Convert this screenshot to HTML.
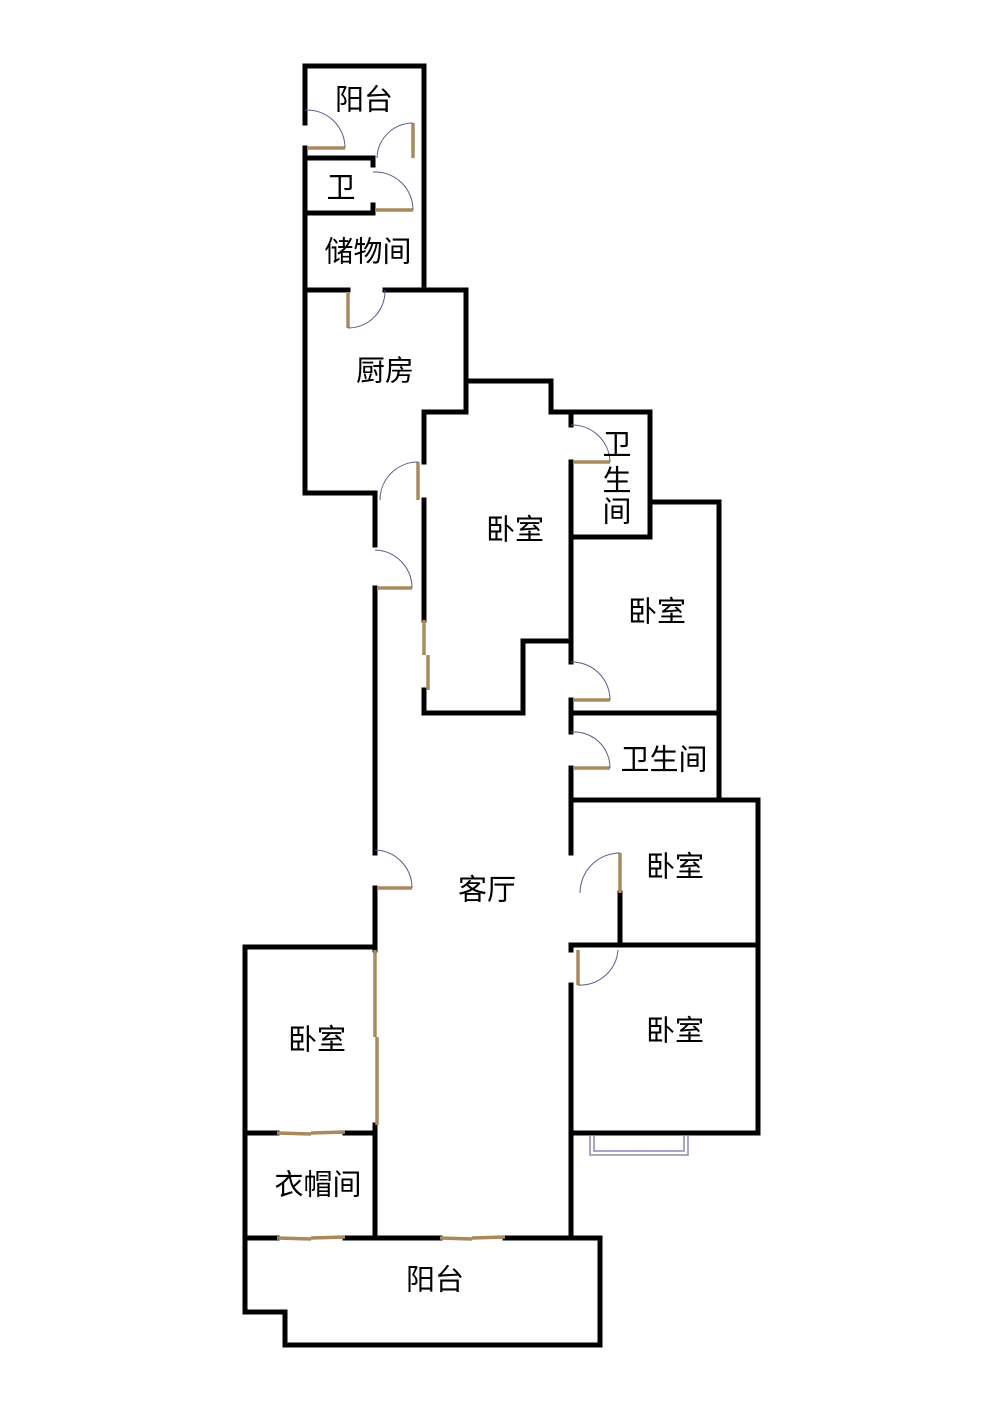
<!DOCTYPE html>
<html><head><meta charset="utf-8"><style>
html,body{margin:0;padding:0;background:#fff;}
svg{display:block;}
text{font-family:"Liberation Sans","Noto Sans CJK SC",sans-serif;font-size:29px;fill:#000;text-anchor:middle;dominant-baseline:middle;}
</style></head><body>
<svg width="1000" height="1413" viewBox="0 0 1000 1413">
<g fill="none" stroke="#000" stroke-width="5" stroke-linecap="square">
<polyline points="305,123 305,66 424,66 424,290"/>
<polyline points="305,148 305,493 375,493 375,545"/>
<line x1="305" y1="158" x2="373" y2="158"/>
<line x1="305" y1="213" x2="373" y2="213"/>
<line x1="373" y1="158" x2="373" y2="165"/>
<line x1="373" y1="205" x2="373" y2="213"/>
<line x1="305" y1="290" x2="348" y2="290"/>
<line x1="385" y1="290" x2="466" y2="290"/>
<polyline points="466,290 466,412 424,412 424,462"/>
<polyline points="466,381 551,381 551,412 650,412 650,537 571,537"/>
<line x1="424" y1="500" x2="424" y2="620"/>
<polyline points="424,690 424,713 523,713 523,641 571,641 571,662"/>
<line x1="571" y1="412" x2="571" y2="425"/>
<line x1="571" y1="462" x2="571" y2="641"/>
<polyline points="650,502 719,502 719,800"/>
<line x1="571" y1="700" x2="571" y2="732"/>
<line x1="571" y1="713" x2="719" y2="713"/>
<line x1="571" y1="768" x2="571" y2="853"/>
<polyline points="571,800 758,800 758,1133 571,1133 571,1238"/>
<line x1="620" y1="893" x2="620" y2="945"/>
<line x1="571" y1="945" x2="758" y2="945"/>
<line x1="571" y1="945" x2="571" y2="950"/>
<line x1="571" y1="985" x2="571" y2="1133"/>
<line x1="375" y1="588" x2="375" y2="853"/>
<line x1="375" y1="888" x2="375" y2="950"/>
<polyline points="375,947 245,947 245,1312 285,1312 285,1345 600,1345 600,1238 505,1238"/>
<line x1="440" y1="1238" x2="345" y2="1238"/>
<line x1="277" y1="1238" x2="245" y2="1238"/>
<line x1="245" y1="1133" x2="277" y2="1133"/>
<line x1="345" y1="1133" x2="375" y2="1133"/>
<line x1="375" y1="1125" x2="375" y2="1238"/>
</g>
<g stroke="#a88a5c" stroke-width="3.5" fill="none">
<line x1="307" y1="148" x2="345" y2="148"/>
<line x1="413" y1="123" x2="413" y2="158"/>
<line x1="375" y1="210" x2="413" y2="210"/>
<line x1="348" y1="292" x2="348" y2="328"/>
<line x1="418" y1="462" x2="418" y2="500"/>
<line x1="377" y1="588" x2="412" y2="588"/>
<line x1="424" y1="620" x2="424" y2="655"/>
<line x1="428" y1="655" x2="428" y2="690"/>
<line x1="573" y1="462" x2="610" y2="462"/>
<line x1="573" y1="700" x2="610" y2="700"/>
<line x1="573" y1="768" x2="610" y2="768"/>
<line x1="620" y1="853" x2="620" y2="893"/>
<line x1="578" y1="950" x2="578" y2="985"/>
<line x1="377" y1="888" x2="412" y2="888"/>
<line x1="375" y1="950" x2="375" y2="1037"/>
<line x1="377" y1="1037" x2="377" y2="1125"/>
<line x1="277" y1="1133" x2="311" y2="1134"/>
<line x1="311" y1="1133" x2="345" y2="1132"/>
<line x1="277" y1="1238" x2="311" y2="1239"/>
<line x1="311" y1="1238" x2="345" y2="1237"/>
<line x1="440" y1="1238" x2="472" y2="1239"/>
<line x1="472" y1="1238" x2="505" y2="1237"/>
</g>
<g stroke="#5a5a8a" stroke-width="1" fill="none">
<path d="M305,110 A38,38 0 0 1 345,148"/>
<path d="M413,123 A36,36 0 0 0 377,158"/>
<path d="M373,172 A38,38 0 0 1 413,210"/>
<path d="M385,290 A37,37 0 0 1 348,328"/>
<path d="M418,462 A38,38 0 0 0 380,500"/>
<path d="M375,550 A38,38 0 0 1 412,588"/>
<path d="M571,425 A38,38 0 0 1 610,462"/>
<path d="M571,662 A38,38 0 0 1 610,700"/>
<path d="M571,732 A36,36 0 0 1 610,768"/>
<path d="M620,853 A40,40 0 0 0 580,893"/>
<path d="M578,985 A38,38 0 0 0 618,950"/>
<path d="M375,850 A38,38 0 0 1 412,888"/>
</g>
<g stroke="#8888bb" stroke-width="1.5" fill="none">
<polyline points="590,1135 590,1155 688,1155 688,1135"/>
<polyline points="594,1135 594,1151 684,1151 684,1135"/>
</g>
<text x="364" y="102">阳台</text>
<text x="341" y="190">卫</text>
<text x="368" y="254">储物间</text>
<text x="385" y="373">厨房</text>
<text x="515" y="532">卧室</text>
<text x="617" y="447">卫</text>
<text x="617" y="483">生</text>
<text x="617" y="514">间</text>
<text x="657" y="614">卧室</text>
<text x="664" y="762">卫生间</text>
<text x="675" y="869">卧室</text>
<text x="487" y="892">客厅</text>
<text x="675" y="1033">卧室</text>
<text x="317" y="1042">卧室</text>
<text x="318" y="1187">衣帽间</text>
<text x="435" y="1282">阳台</text>
</svg>
</body></html>
